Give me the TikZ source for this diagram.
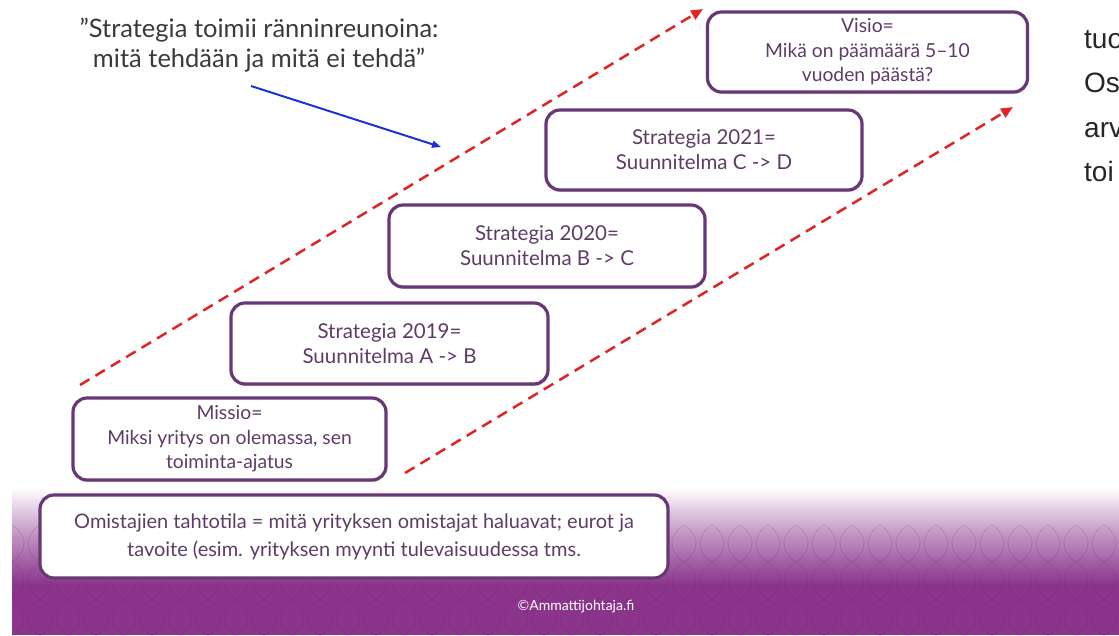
\documentclass[tikz,border=0pt]{standalone}
\usepackage{fontspec}
\setmainfont{Lato}
\newfontfamily\arialfont{Liberation Sans}
\usetikzlibrary{arrows.meta,shadows}
\definecolor{boxc}{RGB}{104,56,118}
\definecolor{txtc}{RGB}{94,60,102}
\definecolor{bandc}{RGB}{138,52,140}
\definecolor{patc}{RGB}{110,30,115}
\definecolor{redc}{RGB}{224,36,36}
\definecolor{bluec}{RGB}{30,50,210}
\definecolor{quotec}{RGB}{58,58,58}
\begin{document}
\begin{tikzpicture}[x=1pt,y=-1pt,
  boxnode/.style={draw=boxc, line width=3.2pt, fill=white, rounded corners=14pt,
    align=center, text=txtc, inner sep=0pt,
    drop shadow={opacity=0.35,shadow xshift=1pt,shadow yshift=-2pt}},
  bigtext/.style={font=\fontsize{20.5}{25}\selectfont},
  midtext/.style={font=\fontsize{19.3}{24.5}\selectfont},
  redarrow/.style={draw=redc, line width=2.5pt, dash pattern=on 11pt off 7pt,
    -{Triangle[length=12pt,width=10pt]}},
  bluearrow/.style={draw=bluec, line width=2pt, -{Triangle[length=9pt,width=7pt]}},
  sidetext/.style={anchor=base west, font=\arialfont\fontsize{28}{28}\selectfont, text=black!85, inner sep=0pt}]
\useasboundingbox (0,0) rectangle (1119,635);
\clip (0,0) rectangle (1119,635);
% background band
\shade[top color=white, bottom color=bandc, middle color=bandc!55] (12,488) rectangle (1119,585);
\fill[bandc] (12,584) rectangle (1119,635);
\begin{scope}
\clip (12,520) rectangle (1119,635);
\foreach \i in {0,...,40}{
  \foreach \j in {0,...,3}{
    \pgfmathsetmacro\xo{12+28*\i}
    \pgfmathsetmacro\yo{525+37*\j}
    \draw[patc, opacity=0.18, line width=0.8pt]
      (\xo,\yo) .. controls (\xo+16,\yo+10) and (\xo+16,\yo+27) .. (\xo,\yo+37)
      (\xo,\yo) .. controls (\xo-16,\yo+10) and (\xo-16,\yo+27) .. (\xo,\yo+37);
  }
}
\end{scope}
% boxes
\node[boxnode, midtext, minimum width=320pt, minimum height=80pt] (visio) at (867.5,52)
  {Visio=\\Mikä on päämäärä 5–10\\vuoden päästä?};
\node[boxnode, bigtext, minimum width=316pt, minimum height=80pt] (s2021) at (704,150)
  {Strategia 2021=\\Suunnitelma C -> D};
\node[boxnode, bigtext, minimum width=316pt, minimum height=82pt] (s2020) at (547,246)
  {Strategia 2020=\\Suunnitelma B -> C};
\node[boxnode, bigtext, minimum width=317pt, minimum height=81pt] (s2019) at (389.5,343.5)
  {Strategia 2019=\\Suunnitelma A -> B};
\node[boxnode, midtext, minimum width=313pt, minimum height=82pt] (missio) at (229.5,439)
  {Missio=\\Miksi yritys on olemassa, sen\\toiminta-ajatus};
\node[boxnode, font=\fontsize{20}{28}\selectfont, minimum width=628pt, minimum height=83pt] (omist) at (354,536.5)
  {Omistajien tahtotila = mitä yrityksen omistajat haluavat; eurot ja\\tavoite (esim. yrityksen myynti tulevaisuudessa tms.};
% quote
\node[font=\fontsize{25.5}{30}\selectfont, text=quotec, align=center] (quote) at (259,45)
  {”Strategia toimii ränninreunoina:\\mitä tehdään ja mitä ei tehdä”};
% copyright
\node[font=\fontsize{14}{14}\selectfont, text=white] (copy) at (576,607) {©Ammattijohtaja.fi};
% side text
\node[sidetext] (t1) at (1084,48) {tuo};
\node[sidetext] (t2) at (1084,92) {Os};
\node[sidetext] (t3) at (1084,137) {arv};
\node[sidetext] (t4) at (1084,181) {toi};
% connectors
\coordinate (u1) at (80,385);
\coordinate (u2) at (703,9);
\coordinate (l1) at (405,473);
\coordinate (l2) at (1013,107);
\coordinate (qa) at (251,86);
\coordinate (qb) at (441,147);
\draw[redarrow] (u1) -- (u2);
\draw[redarrow] (l1) -- (l2);
\draw[bluearrow] (qa) -- (qb);
\end{tikzpicture}
\end{document}
